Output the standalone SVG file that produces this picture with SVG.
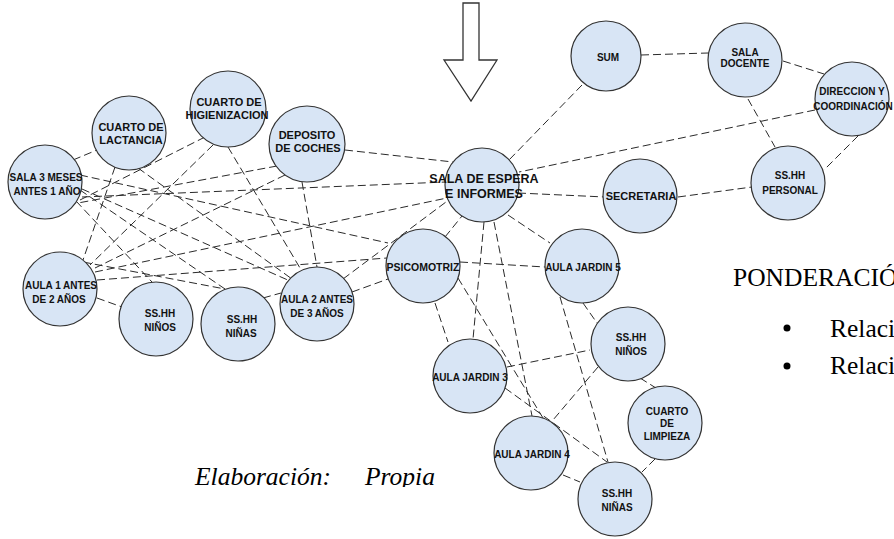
<svg xmlns="http://www.w3.org/2000/svg" width="894" height="539" viewBox="0 0 894 539">
<defs>
<style>
.n{fill:#d8e5f5;stroke:#333;stroke-width:1.2}
.e{stroke:#2a2a2a;stroke-width:1;stroke-dasharray:8,4;fill:none}
.t{font-family:"Liberation Sans",Arial,sans-serif;font-weight:bold;font-size:10px;fill:#111;text-anchor:middle}
.s11{font-size:11px}
.big{font-size:12.5px}
.tm{font-family:"Liberation Serif","Times New Roman",serif;font-size:25.5px;fill:#000}
</style>
<clipPath id="cl"><rect x="0" y="0" width="894" height="487"/></clipPath>
</defs>
<rect width="894" height="539" fill="#fff"/>
<g id="arrow"><polygon points="463,3 479,3 479,60 497,60 471,101 444,60 463,60" fill="#fff" stroke="#333" stroke-width="1.3"/></g>
<g id="connectors">
<line class="e" x1="641" y1="55" x2="708" y2="53"/>
<line class="e" x1="582" y1="85" x2="509" y2="160"/>
<line class="e" x1="783" y1="61" x2="824" y2="74"/>
<line class="e" x1="748" y1="99" x2="775" y2="147"/>
<line class="e" x1="858" y1="136" x2="824" y2="170"/>
<line class="e" x1="815" y1="110" x2="519" y2="172"/>
<line class="e" x1="678" y1="197" x2="752" y2="187"/>
<line class="e" x1="518" y1="193" x2="605" y2="197"/>
<line class="e" x1="345" y1="150" x2="453" y2="162"/>
<line class="e" x1="82" y1="197" x2="446" y2="182"/>
<line class="e" x1="95" y1="272" x2="447" y2="198"/>
<line class="e" x1="80" y1="175" x2="388" y2="243"/>
<line class="e" x1="343" y1="279" x2="450" y2="199"/>
<line class="e" x1="445" y1="237" x2="462" y2="216"/>
<line class="e" x1="508" y1="215" x2="550" y2="243"/>
<line class="e" x1="484" y1="222" x2="473" y2="339"/>
<line class="e" x1="494" y1="222" x2="532" y2="416"/>
<line class="e" x1="460" y1="262" x2="545" y2="267"/>
<line class="e" x1="435" y1="303" x2="448" y2="342"/>
<line class="e" x1="458" y1="278" x2="543" y2="418"/>
<line class="e" x1="505" y1="388" x2="607" y2="462"/>
<line class="e" x1="507" y1="367" x2="590" y2="350"/>
<line class="e" x1="583" y1="303" x2="597" y2="323"/>
<line class="e" x1="560" y1="297" x2="608" y2="462"/>
<line class="e" x1="598" y1="367" x2="553" y2="420"/>
<line class="e" x1="640" y1="378" x2="656" y2="388"/>
<line class="e" x1="655" y1="459" x2="642" y2="472"/>
<line class="e" x1="563" y1="475" x2="580" y2="482"/>
<line class="e" x1="73" y1="160" x2="97" y2="150"/>
<line class="e" x1="115" y1="167" x2="83" y2="260"/>
<line class="e" x1="138" y1="168" x2="292" y2="279"/>
<line class="e" x1="205" y1="137" x2="80" y2="200"/>
<line class="e" x1="213" y1="145" x2="90" y2="265"/>
<line class="e" x1="228" y1="147" x2="300" y2="268"/>
<line class="e" x1="277" y1="166" x2="78" y2="203"/>
<line class="e" x1="285" y1="175" x2="95" y2="268"/>
<line class="e" x1="302" y1="182" x2="317" y2="267"/>
<line class="e" x1="82" y1="189" x2="290" y2="281"/>
<line class="e" x1="76" y1="201" x2="152" y2="282"/>
<line class="e" x1="80" y1="190" x2="225" y2="289"/>
<line class="e" x1="83" y1="262" x2="225" y2="289"/>
<line class="e" x1="97" y1="280" x2="387" y2="258"/>
<line class="e" x1="97" y1="298" x2="122" y2="307"/>
<line class="e" x1="263" y1="298" x2="281" y2="293"/>
<line class="e" x1="352" y1="292" x2="388" y2="279"/>
</g>
<g id="sum"><circle class="n" cx="606" cy="56" r="35"/><text class="t" x="608" y="61">SUM</text></g>
<g id="sala-docente"><circle class="n" cx="745" cy="60" r="37"/><text class="t" x="745" y="56">SALA</text><text class="t" x="745" y="67">DOCENTE</text></g>
<g id="direccion"><circle class="n" cx="852" cy="99" r="37"/><text class="t" x="852" y="95">DIRECCION Y</text><text class="t" x="853" y="110">COORDINACIÓN</text></g>
<g id="sshh-personal"><circle class="n" cx="788" cy="183" r="37"/><text class="t" x="790" y="179">SS.HH</text><text class="t" x="790" y="194">PERSONAL</text></g>
<g id="secretaria"><circle class="n" cx="640" cy="196" r="37"/><text class="t s11" x="641" y="200">SECRETARIA</text></g>
<g id="sala-espera"><circle class="n" cx="482" cy="185" r="37"/><text class="t big" x="484" y="183">SALA DE ESPERA</text><text class="t big" x="484" y="198">E INFORMES</text></g>
<g id="lactancia"><circle class="n" cx="129" cy="133" r="37"/><text class="t s11" x="131" y="131">CUARTO DE</text><text class="t s11" x="131" y="144">LACTANCIA</text></g>
<g id="higienizacion"><circle class="n" cx="228" cy="109" r="38"/><text class="t s11" x="229" y="106">CUARTO DE</text><text class="t s11" x="227" y="119">HIGIENIZACION</text></g>
<g id="deposito"><circle class="n" cx="307" cy="144" r="38"/><text class="t s11" x="307" y="139">DEPOSITO</text><text class="t s11" x="308" y="152">DE COCHES</text></g>
<g id="sala3"><circle class="n" cx="45" cy="182" r="37"/><text class="t" x="46" y="181">SALA 3 MESES</text><text class="t" x="47" y="195">ANTES 1 AÑO</text></g>
<g id="aula1"><circle class="n" cx="60" cy="289" r="37"/><text class="t" x="61" y="289">AULA 1 ANTES</text><text class="t" x="59" y="303">DE 2 AÑOS</text></g>
<g id="sshh-ninos-l"><circle class="n" cx="156" cy="319" r="37"/><text class="t" x="160" y="317">SS.HH</text><text class="t" x="160" y="331">NIÑOS</text></g>
<g id="sshh-ninas-l"><circle class="n" cx="238" cy="324" r="37"/><text class="t" x="242" y="323">SS.HH</text><text class="t" x="241" y="337">NIÑAS</text></g>
<g id="aula2"><circle class="n" cx="317" cy="304" r="37"/><text class="t" x="317" y="303">AULA 2 ANTES</text><text class="t" x="317" y="317">DE 3 AÑOS</text></g>
<g id="psicomotriz"><circle class="n" cx="423" cy="266" r="37"/><text class="t" x="423" y="271" style="font-size:10.5px">PSICOMOTRIZ</text></g>
<g id="jardin5"><circle class="n" cx="582" cy="266" r="37"/><text class="t" x="583" y="271">AULA JARDIN 5</text></g>
<g id="sshh-ninos-r"><circle class="n" cx="628" cy="344" r="37"/><text class="t" x="631" y="341">SS.HH</text><text class="t" x="631" y="355">NIÑOS</text></g>
<g id="jardin3"><circle class="n" cx="470" cy="376" r="37"/><text class="t" x="470" y="381">AULA JARDIN 3</text></g>
<g id="limpieza"><circle class="n" cx="665" cy="423" r="37"/><text class="t" x="667" y="415">CUARTO</text><text class="t" x="667" y="427">DE</text><text class="t" x="667" y="440">LIMPIEZA</text></g>
<g id="jardin4"><circle class="n" cx="531" cy="453" r="37"/><text class="t" x="532" y="458">AULA JARDIN 4</text></g>
<g id="sshh-ninas-r"><circle class="n" cx="615" cy="499" r="37"/><text class="t" x="617" y="497">SS.HH</text><text class="t" x="617" y="511">NIÑAS</text></g>
<g id="notes">
<text class="tm" x="733" y="286">PONDERACIÓ</text>
<circle cx="787" cy="328" r="3.5" fill="#000"/>
<text class="tm" x="830" y="337">Relaci</text>
<circle cx="787" cy="366" r="3.5" fill="#000"/>
<text class="tm" x="830" y="374">Relaci</text>
<g clip-path="url(#cl)"><text class="tm" x="195" y="485" font-style="italic">Elaboración:</text><text class="tm" x="365" y="485" font-style="italic">Propia</text></g>
</g>
</svg>
